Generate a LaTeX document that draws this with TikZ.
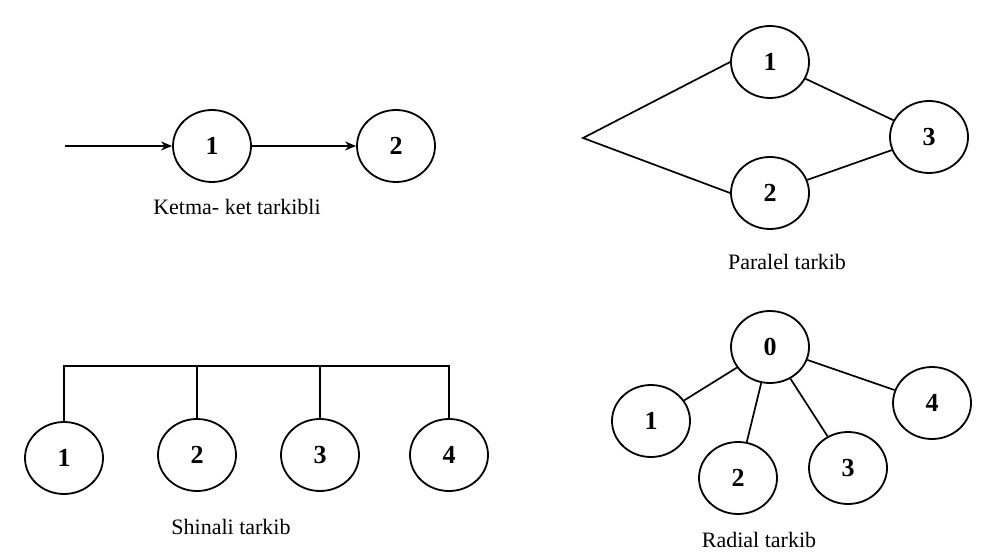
\documentclass[tikz,border=0pt]{standalone}
\usepackage{fontspec}
\setmainfont{Liberation Serif}
\usetikzlibrary{shapes.geometric,arrows.meta}
\begin{document}
\begin{tikzpicture}[x=1pt,y=-1pt,
  nd/.style={draw,line width=1.8pt,ellipse,minimum width=78pt,minimum height=72pt,inner sep=0pt,font=\fontsize{26}{26}\selectfont\bfseries},
  lab/.style={font=\fontsize{22}{22}\selectfont,inner sep=0pt},
  ln/.style={line width=1.7pt},
  arr/.style={ln,-{Stealth[length=11pt,width=9pt]}}]
\useasboundingbox (0,0) rectangle (984,553);
% Ketma-ket
\coordinate (s0) at (65,146);
\node[nd] (a1) at (212,146) {1};
\node[nd] (a2) at (396,146) {2};
\draw[arr] (s0) -- (a1);
\draw[arr] (a1) -- (a2);
\node[lab] (la) at (237,207) {Ketma- ket tarkibli};
% Parallel
\coordinate (p0) at (583,138);
\node[nd] (b1) at (770,62) {1};
\node[nd] (b2) at (770,193) {2};
\node[nd] (b3) at (929,137) {3};
\draw[ln] (b1.west) -- (p0) -- (b2.west);
\draw[ln] (b1) -- (b3);
\draw[ln] (b2) -- (b3);
\node[lab] (lb) at (787,262) {Paralel tarkib};
% Shinali
\node[nd] (c1) at (64,458) {1};
\node[nd] (c2) at (197,455) {2};
\node[nd] (c3) at (320,455) {3};
\node[nd] (c4) at (449,455) {4};
\coordinate (t1) at (65,366);
\draw[ln] (c1.north) -- (c1.north |- t1) -- (c4.north |- t1) -- (c4.north);
\draw[ln] (c2.north) -- (c2.north |- t1);
\draw[ln] (c3.north) -- (c3.north |- t1);
\node[lab] (lc) at (231,527) {Shinali tarkib};
% Radial
\node[nd] (d0) at (770,347) {0};
\node[nd] (d1) at (651,421) {1};
\node[nd] (d2) at (738,478) {2};
\node[nd] (d3) at (848,468) {3};
\node[nd] (d4) at (932,403) {4};
\draw[ln] (d0) -- (d1);
\draw[ln] (d0) -- (d2);
\draw[ln] (d0) -- (d3);
\draw[ln] (d0) -- (d4);
\node[lab] (ld) at (759,540) {Radial tarkib};
\end{tikzpicture}
\end{document}
